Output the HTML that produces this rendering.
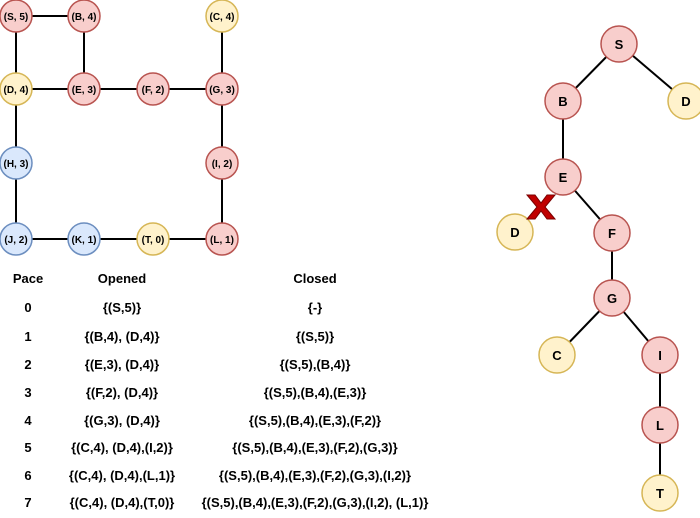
<!DOCTYPE html>
<html><head><style>
body{margin:0;background:#fff;}
svg text{font-family:"Liberation Sans",Arial,sans-serif;font-weight:bold;fill:#000;}
</style></head><body>
<svg width="700" height="513" xmlns="http://www.w3.org/2000/svg">
<g stroke="#000" stroke-width="2">
<line x1="16" y1="16" x2="84" y2="16"/>
<line x1="16" y1="16" x2="16" y2="239"/>
<line x1="84" y1="16" x2="84" y2="89"/>
<line x1="16" y1="89" x2="222" y2="89"/>
<line x1="222" y1="16" x2="222" y2="239"/>
<line x1="16" y1="239" x2="222" y2="239"/>
<line x1="619" y1="44" x2="563" y2="101"/>
<line x1="619" y1="44" x2="686" y2="101"/>
<line x1="563" y1="101" x2="563" y2="177"/>
<line x1="563" y1="177" x2="612" y2="233"/>
<line x1="612" y1="233" x2="612" y2="298"/>
<line x1="612" y1="298" x2="557" y2="355"/>
<line x1="612" y1="298" x2="660" y2="355"/>
<line x1="660" y1="355" x2="660" y2="493"/>
</g>
<g stroke-width="1.5" font-size="10">
<g fill="#f8cecc" stroke="#b85450">
<circle cx="16" cy="16" r="16"/><circle cx="84" cy="16" r="16"/><circle cx="84" cy="89" r="16"/><circle cx="153" cy="89" r="16"/><circle cx="222" cy="89" r="16"/><circle cx="222" cy="163" r="16"/><circle cx="222" cy="239" r="16"/>
<circle cx="619" cy="44" r="18"/><circle cx="563" cy="101" r="18"/><circle cx="563" cy="177" r="18"/><circle cx="612" cy="233" r="18"/><circle cx="612" cy="298" r="18"/><circle cx="660" cy="355" r="18"/><circle cx="660" cy="425" r="18"/>
</g>
<g fill="#fff2cc" stroke="#d6b656">
<circle cx="222" cy="16" r="16"/><circle cx="16" cy="89" r="16"/><circle cx="153" cy="239" r="16"/>
<circle cx="686" cy="101" r="18"/><circle cx="515" cy="232" r="18"/><circle cx="557" cy="355" r="18"/><circle cx="660" cy="493" r="18"/>
</g>
<g fill="#dae8fc" stroke="#6c8ebf">
<circle cx="16" cy="163" r="16"/><circle cx="16" cy="239" r="16"/><circle cx="84" cy="239" r="16"/>
</g>
</g>
<g font-size="10" text-anchor="middle">
<text x="16" y="20">(S, 5)</text><text x="84" y="20">(B, 4)</text><text x="222" y="20">(C, 4)</text>
<text x="16" y="93">(D, 4)</text><text x="84" y="93">(E, 3)</text><text x="153" y="93">(F, 2)</text><text x="222" y="93">(G, 3)</text>
<text x="16" y="167">(H, 3)</text><text x="222" y="167">(I, 2)</text>
<text x="16" y="243">(J, 2)</text><text x="84" y="243">(K, 1)</text><text x="153" y="243">(T, 0)</text><text x="222" y="243">(L, 1)</text>
</g>
<g font-size="13" text-anchor="middle">
<text x="619" y="49">S</text><text x="563" y="106">B</text><text x="686" y="106">D</text><text x="563" y="182">E</text>
<text x="515" y="237">D</text><text x="612" y="238">F</text><text x="612" y="303">G</text><text x="557" y="360">C</text>
<text x="660" y="360">I</text><text x="660" y="430">L</text><text x="660" y="498">T</text>
</g>
<g stroke="#7a0000" stroke-width="1" fill="#c00000">
<polygon points="527,195 535,195 541,203 547,195 555,195 545,207 555,219 547,219 541,211 535,219 527,219 537,207"/>
</g>
<g font-size="13" text-anchor="middle">
<text x="28" y="283">Pace</text><text x="122" y="283">Opened</text><text x="315" y="283">Closed</text>
<text x="28" y="312">0</text><text x="122" y="312">{(S,5)}</text><text x="315" y="312">{-}</text>
<text x="28" y="341">1</text><text x="122" y="341">{(B,4), (D,4)}</text><text x="315" y="341">{(S,5)}</text>
<text x="28" y="369">2</text><text x="122" y="369">{(E,3), (D,4)}</text><text x="315" y="369">{(S,5),(B,4)}</text>
<text x="28" y="397">3</text><text x="122" y="397">{(F,2), (D,4)}</text><text x="315" y="397">{(S,5),(B,4),(E,3)}</text>
<text x="28" y="425">4</text><text x="122" y="425">{(G,3), (D,4)}</text><text x="315" y="425">{(S,5),(B,4),(E,3),(F,2)}</text>
<text x="28" y="452">5</text><text x="122" y="452">{(C,4), (D,4),(I,2)}</text><text x="315" y="452">{(S,5),(B,4),(E,3),(F,2),(G,3)}</text>
<text x="28" y="480">6</text><text x="122" y="480">{(C,4), (D,4),(L,1)}</text><text x="315" y="480">{(S,5),(B,4),(E,3),(F,2),(G,3),(I,2)}</text>
<text x="28" y="507">7</text><text x="122" y="507">{(C,4), (D,4),(T,0)}</text><text x="315" y="507">{(S,5),(B,4),(E,3),(F,2),(G,3),(I,2), (L,1)}</text>
</g>
</svg>
</body></html>
